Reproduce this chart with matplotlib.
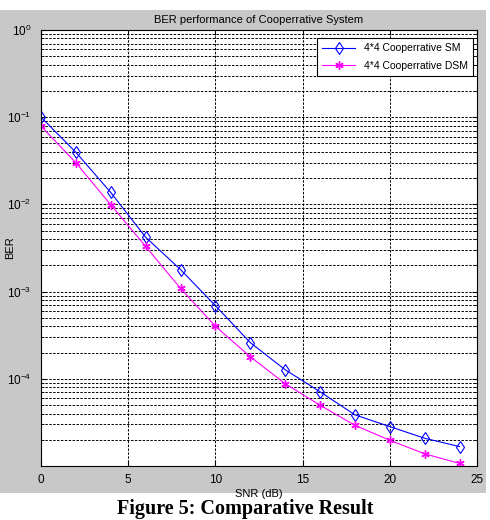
import matplotlib
matplotlib.use("Agg")
import matplotlib.pyplot as plt
from matplotlib.patches import Rectangle
import numpy as np

snr = [0, 2, 4, 6, 8, 10, 12, 14, 16, 18, 20, 22, 24]
ber_sm = [0.1, 0.0396, 0.0137, 0.0042, 0.00179, 0.00069, 2.6e-4, 1.27e-4,
          7.1e-5, 3.86e-5, 2.83e-5, 2.08e-5, 1.67e-5]
ber_dsm = [0.079, 0.030, 0.0099, 0.0033, 0.00109, 4.0e-4, 1.79e-4, 8.8e-5,
           4.98e-5, 2.93e-5, 1.97e-5, 1.38e-5, 1.07e-5]
labels = ["4*4 Cooperrative SM", "4*4 Cooperrative DSM"]

plt.rcParams['font.family'] = ['Liberation Sans', 'DejaVu Sans']

fig = plt.figure(figsize=(4.9, 5.2), dpi=100, facecolor='white')
# grey matlab figure background, behind the axes
bg = Rectangle((0, 1 - 493/520), 486/490, (493 - 10)/520,
               transform=fig.transFigure, facecolor='#c8c8c8',
               edgecolor='none', zorder=-10)
fig.add_artist(bg)

ax = fig.add_axes([41/490, 1 - 466/520, (477 - 41)/490, (466 - 30)/520])
ax.set_facecolor('white')
ax.semilogy(snr, ber_sm, color='#0000ff', marker='d', mfc='none', ms=6.5,
            lw=0.8, mew=0.8, label=labels[0])
ax.semilogy(snr, ber_dsm, color='#ff00ff', marker=(6, 2, 0), ms=6,
            lw=0.8, mew=1.0, label=labels[1])

ax.set_xlim(0, 25)
ax.set_ylim(1e-5, 1)
ax.set_xticks([0, 5, 10, 15, 20, 25])
ax.set_yticks([1e-4, 1e-3, 1e-2, 1e-1, 1e0])
ax.grid(True, which='major', axis='both', color='black', ls=(0, (2.5, 1.5)), lw=0.7)
ax.grid(True, which='minor', axis='y', color='black', ls=(0, (2.5, 1.5)), lw=0.7)
ax.tick_params(which='both', direction='in', top=True, right=True, labelsize=8.5)
ax.tick_params(axis='y', pad=7)
ax.tick_params(axis='x', pad=6)
for s in ax.spines.values():
    s.set_linewidth(0.8)

ax.set_title("BER performance of Cooperrative System", fontsize=8, pad=5)
ax.set_xlabel("SNR (dB)", fontsize=8, labelpad=2)
ax.set_ylabel("BER", fontsize=8)
ax.yaxis.set_label_coords((15 - 41)/436, 0.5)

leg = ax.legend(loc='upper right', fontsize=7.5, fancybox=False, framealpha=1,
                edgecolor='black', borderaxespad=0,
                bbox_to_anchor=((473 - 41)/436, (466 - 38)/436),
                handlelength=3.2, labelspacing=0.75, borderpad=0.5)
leg.get_frame().set_linewidth(0.8)

fig.text(0.5, 1 - 509/520, "Figure 5: Comparative Result", ha='center',
         va='center', fontsize=14.5, fontweight='bold', family='Liberation Serif')

fig.savefig("out.png", dpi=100)
